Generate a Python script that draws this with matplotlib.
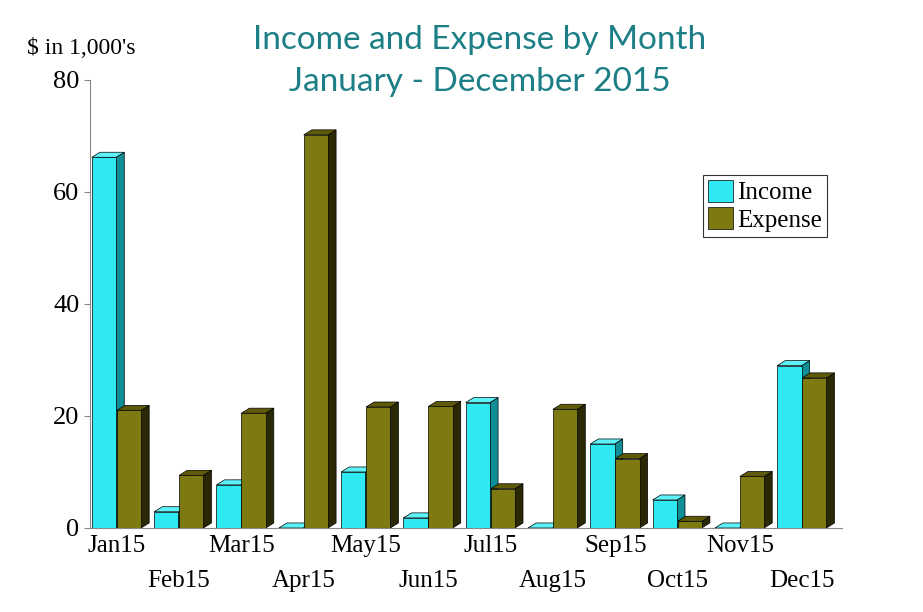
import matplotlib
matplotlib.use("Agg")
import matplotlib.pyplot as plt
from matplotlib.patches import Polygon, Patch

months = ["Jan15","Feb15","Mar15","Apr15","May15","Jun15","Jul15","Aug15","Sep15","Oct15","Nov15","Dec15"]
income = [66.2, 2.9, 7.7, 0, 10.0, 1.8, 22.4, 0, 15.0, 5.0, 0, 29.0]
expense = [21.0, 9.4, 20.5, 70.2, 21.6, 21.7, 7.0, 21.2, 12.4, 1.2, 9.2, 26.8]

fig = plt.figure(figsize=(9.23, 6.12), dpi=100)
ax = fig.add_axes([90/923, 84/612, 752/923, 448/612])
ax.set_xlim(-0.43, 11.64)
ax.set_ylim(0, 80)

W = 0.39
dx, dy = 0.13, 0.9
styles = {
    "inc": ("#2ee8f2", "#5cf2f8", "#0f8e96"),
    "exp": ("#7d7a12", "#5e5a08", "#2a2805"),
}

def bar3d(x0, h, key):
    face, top, side = styles[key]
    ax.add_patch(Polygon([(x0+W, 0), (x0+W+dx, dy), (x0+W+dx, h+dy), (x0+W, h)],
                         closed=True, fc=side, ec="black", lw=0.5, zorder=2))
    ax.add_patch(Polygon([(x0, h), (x0+dx, h+dy), (x0+W+dx, h+dy), (x0+W, h)],
                         closed=True, fc=top, ec="black", lw=0.5, zorder=2))
    ax.bar(x0, h, width=W, align="edge", color=face, edgecolor="black", lw=0.5, zorder=3)

for i in range(len(months)):
    bar3d(i - 0.4, income[i], "inc")
    bar3d(i, expense[i], "exp")

for s in ["top", "right"]:
    ax.spines[s].set_visible(False)
ax.spines["left"].set_color("#888888")
ax.spines["bottom"].set_color("#888888")

ax.set_yticks([0, 20, 40, 60, 80])
ax.tick_params(axis="y", length=4, color="#888888", labelsize=19)
for t in ax.get_yticklabels():
    t.set_fontfamily("Liberation Serif")
ax.set_xticks([])
for i, m in enumerate(months):
    ax.text(i, -1.3 if i % 2 == 0 else -7.5, m, ha="center", va="top",
            fontsize=18, family="Liberation Serif", clip_on=False)

fig.text(27/923, 1 - 48/612, "$ in 1,000's", fontsize=17, family="Liberation Serif",
         va="center", ha="left")
fig.text(480/923, 1 - 40/612, "Income and Expense by Month", fontsize=24,
         color="#1d7f86", ha="center", va="center", family="Lato")
fig.text(480/923, 1 - 82/612, "January - December 2015", fontsize=24,
         color="#1d7f86", ha="center", va="center", family="Lato")

handles = [Patch(fc="#2ee8f2", ec="black", lw=0.5, label="Income"),
           Patch(fc="#7d7a12", ec="black", lw=0.5, label="Expense")]
leg = ax.legend(handles=handles, loc="upper left", bbox_to_anchor=((690-90)/752, (528-162)/448),
                frameon=True, fancybox=False, edgecolor="black", borderpad=0.2,
                handlelength=1.0, handleheight=1.0, handletextpad=0.2, labelspacing=0.1,
                prop={"family": "Liberation Serif", "size": 18})
leg.get_frame().set_linewidth(0.8)

fig.savefig("out.png", dpi=100)
